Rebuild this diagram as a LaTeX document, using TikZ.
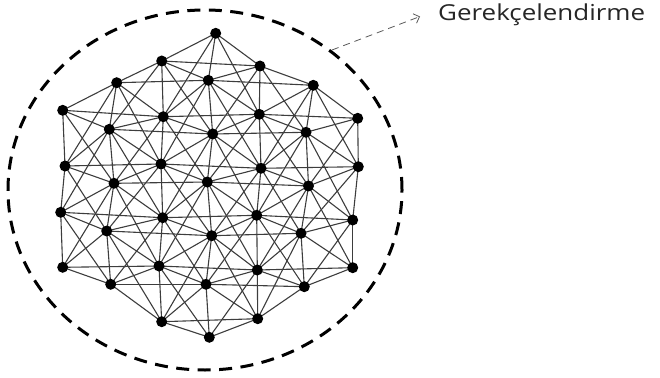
\documentclass[tikz,border=0pt]{standalone}
\usepackage{fontspec}
\setmainfont{Open Sans}
\newfontfamily\lblfont[FakeStretch=1.18]{Open Sans}
\usetikzlibrary{arrows.meta,backgrounds}
\makeatletter
\newcommand\IfNodeThere[3]{\pgfutil@ifundefined{pgf@sh@ns@#1}{#3}{#2}}
\makeatother
\def\nodelist{0/3/62.7/110.3, 0/5/65/166, 0/7/60.7/212.3, 0/9/62.7/267.3,
1/2/116.7/82.7, 1/4/109.3/129.3, 1/6/114/183.3, 1/8/106.7/231, 1/10/110.7/284.3,
2/1/161.7/61, 2/3/163.3/116.7, 2/5/161/164, 2/7/162.7/217.7, 2/9/159/266, 2/11/161.7/321.7,
3/0/215.7/33.3, 3/2/208.3/80.3, 3/4/212.7/134, 3/6/207.3/182, 3/8/211.7/235.7, 3/10/206/284.3, 3/12/209.3/337.3,
4/1/260/66, 4/3/259.3/114.3, 4/5/261/168.3, 4/7/256.7/215.3, 4/9/257.3/270, 4/11/257.7/318.7,
5/2/313.3/85.3, 5/4/306/132.3, 5/6/308.5/186, 5/8/301/233.3, 5/10/304.3/286.7,
6/3/357.7/118.3, 6/5/358.3/166.7, 6/7/352.7/220, 6/9/352.7/267.7}
\begin{document}
\begin{tikzpicture}[x=1pt,y=-1pt,
  dot/.style={circle,fill=black,inner sep=0pt,minimum size=11pt},
  link/.style={draw=black!76,line width=1.1pt},
  ring/.style={draw=black,line width=3pt,dash pattern=on 13pt off 8.5pt},
  pointer/.style={draw=black!65,line width=0.8pt,dash pattern=on 7pt off 5pt,-{Straight Barb[length=5pt,width=10pt]}},
  lbl/.style={font=\lblfont\fontsize{22}{26}\selectfont,text=black!85,anchor=base west,inner sep=0pt}]
\useasboundingbox (0,0) rectangle (660,377);
% nodes
\foreach \c/\h/\px/\py in \nodelist {\node[dot] (n-\c-\h) at (\px,\py) {};}
% edges
\begin{pgfonlayer}{background}
\foreach \c/\h/\px/\py in \nodelist {
  \foreach \dc/\dh in {0/2,1/1,1/-1,2/0,1/3,1/-3} {
    \pgfmathtruncatemacro\tc{\c+\dc}
    \pgfmathtruncatemacro\th{\h+\dh}
    \IfNodeThere{n-\tc-\th}{\draw[link] (n-\c-\h.center) -- (n-\tc-\th.center);}{}
  }
}
\end{pgfonlayer}
% dashed ring
\draw[ring] (205,190) ellipse [x radius=197pt, y radius=180pt];
% label and pointer
\node[lbl] (lbl) at (438,21) {Gerekçelendirme};
\coordinate (ringpt) at (332,50);
\coordinate (tip) at (420,16.5);
\draw[pointer] (ringpt) -- (tip);
\end{tikzpicture}
\end{document}
